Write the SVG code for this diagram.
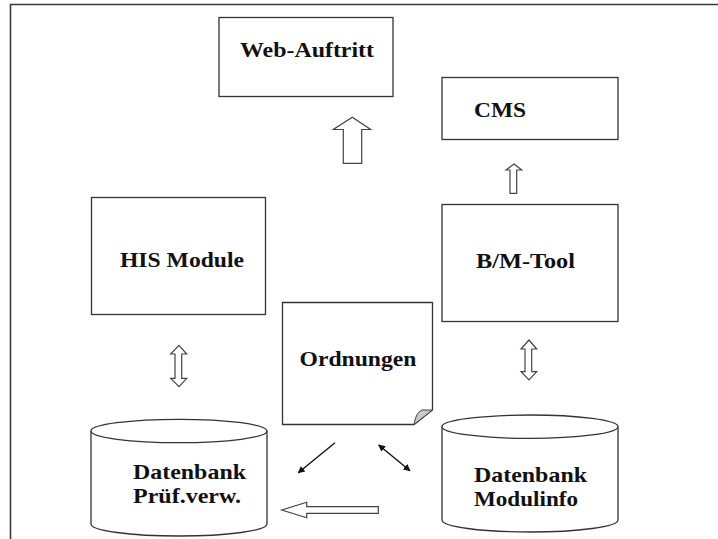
<svg xmlns="http://www.w3.org/2000/svg" width="718" height="539" viewBox="0 0 718 539">
<style>
.box{fill:#fff;stroke:#333;stroke-width:1.3}
.t{font-family:'Liberation Serif','DejaVu Serif',serif;font-weight:bold;font-size:21px;fill:#111}
.blk{fill:#fff;stroke:#444;stroke-width:1.2;stroke-linejoin:miter}
.ln{stroke:#111;stroke-width:1.4;fill:none}
</style>
<defs>
<marker id="ah" viewBox="0 0 10 10" refX="9" refY="5" markerWidth="7" markerHeight="7" markerUnits="userSpaceOnUse" orient="auto-start-reverse">
<path d="M0,0 L10,5 L0,10 Z" fill="#111"/>
</marker>
</defs>
<rect width="718" height="539" fill="#fff"/>
<g id="frame">
<path d="M10.5,539 L10.5,4.5 L718,4.5" fill="none" stroke="#3a3a3a" stroke-width="1.6"/>
</g>
<g id="web">
<rect class="box" x="219" y="17.5" width="174" height="79"/>
<text class="t" font-family="Liberation Serif, serif" x="240" y="57" textLength="134" lengthAdjust="spacingAndGlyphs">Web-Auftritt</text>
</g>
<g id="cms">
<rect class="box" x="442" y="77.5" width="176" height="62"/>
<text class="t" font-family="Liberation Serif, serif" x="474" y="117" textLength="52" lengthAdjust="spacingAndGlyphs">CMS</text>
</g>
<g id="his">
<rect class="box" x="91.5" y="197.5" width="174" height="117"/>
<text class="t" font-family="Liberation Serif, serif" x="120" y="267" textLength="124" lengthAdjust="spacingAndGlyphs">HIS Module</text>
</g>
<g id="bmtool">
<rect class="box" x="442" y="204.5" width="176" height="117"/>
<text class="t" font-family="Liberation Serif, serif" x="476" y="267.5" textLength="99" lengthAdjust="spacingAndGlyphs">B/M-Tool</text>
</g>
<g id="ordnungen">
<path class="box" d="M282.5,302.5 L432.5,302.5 L432.5,410 L414,424.5 L282.5,424.5 Z"/>
<path d="M414,424.5 Q416,412 422,410 L432.5,410 Z" fill="#c8c8c8" stroke="#444" stroke-width="1"/>
<text class="t" font-family="Liberation Serif, serif" x="299.5" y="366" textLength="117" lengthAdjust="spacingAndGlyphs">Ordnungen</text>
</g>
<g id="db-pruef">
<path class="box" d="M91,431 L91,524 A88,12 0 0 0 267,524 L267,431"/>
<ellipse class="box" cx="179" cy="431" rx="88" ry="11.7"/>
<text class="t" font-family="Liberation Serif, serif" x="133" y="478.5" textLength="113" lengthAdjust="spacingAndGlyphs">Datenbank</text>
<text class="t" font-family="Liberation Serif, serif" x="133" y="502.5" textLength="108" lengthAdjust="spacingAndGlyphs">Prüf.verw.</text>
</g>
<g id="db-modul">
<path class="box" d="M442,426.7 L442,520 A88,12 0 0 0 618,520 L618,426.7"/>
<ellipse class="box" cx="530" cy="426.7" rx="88" ry="11.7"/>
<text class="t" font-family="Liberation Serif, serif" x="474" y="482" textLength="113" lengthAdjust="spacingAndGlyphs">Datenbank</text>
<text class="t" font-family="Liberation Serif, serif" x="474" y="506" textLength="104" lengthAdjust="spacingAndGlyphs">Modulinfo</text>
</g>
<g id="connectors">
<path class="blk" d="M352.3,117.3 L370.7,129.5 L361.7,129.5 L361.7,163.3 L343.3,163.3 L343.3,129.5 L333.3,129.5 Z"/>
<path class="blk" d="M514,164 L521.7,170 L516.7,170 L516.7,193.3 L510,193.3 L510,170 L506,170 Z"/>
<path class="blk" d="M179,345.3 L186.7,354 L181.7,354 L181.7,378.3 L186.7,378.3 L179,386.7 L170.7,378.3 L175,378.3 L175,354 L170.7,354 Z"/>
<path class="blk" d="M529,340 L536.7,349 L531.7,349 L531.7,371.7 L536.7,371.7 L529,380 L521,371.7 L525,371.7 L525,349 L521,349 Z"/>
<path class="blk" d="M281.7,510 L306.7,502.3 L306.7,506.7 L378.3,506.7 L378.3,513.3 L306.7,513.3 L306.7,517.7 Z"/>
<line class="ln" x1="335" y1="442.7" x2="298.3" y2="472.7" marker-end="url(#ah)"/>
<line class="ln" x1="378.7" y1="445" x2="410" y2="470.7" marker-start="url(#ah)" marker-end="url(#ah)"/>
</g>
</svg>
